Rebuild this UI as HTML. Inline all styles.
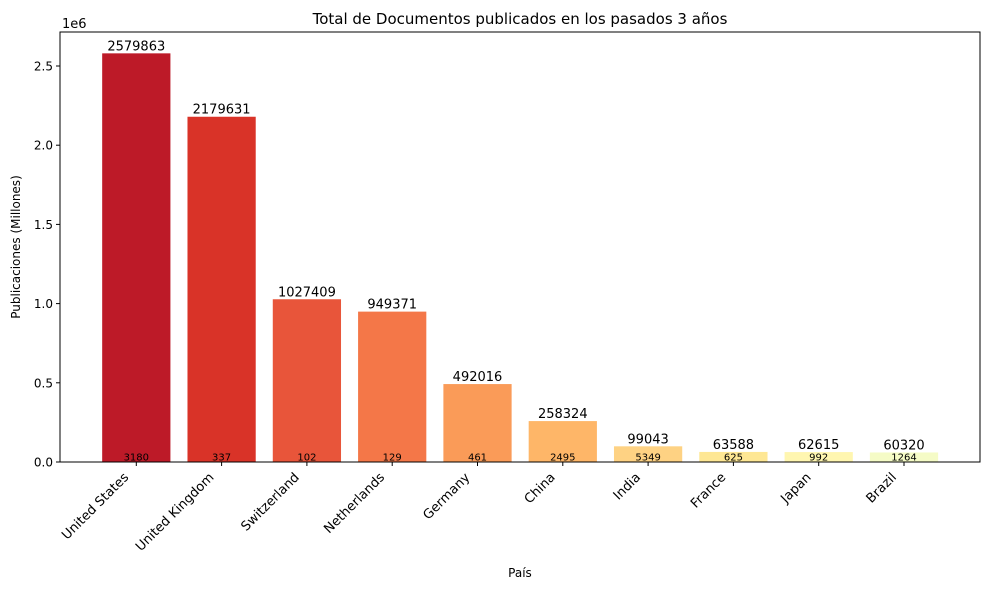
<!DOCTYPE html>
<html><head><meta charset="utf-8"><style>
body{margin:0;background:#fff;font-family:"Liberation Sans","DejaVu Sans",sans-serif;}
svg text{font-family:"DejaVu Sans","Liberation Sans",sans-serif;fill:#000;}
</style></head><body>
<svg id="chart" width="989" height="590" xmlns="http://www.w3.org/2000/svg">
<rect width="989" height="590" fill="#fff"/>
<text x="520" y="24" font-size="15" text-anchor="middle">Total de Documentos publicados en los pasados 3 años</text>
<text x="520" y="577" font-size="12" text-anchor="middle">País</text>
<text transform="translate(20,247) rotate(-90)" font-size="12" text-anchor="middle">Publicaciones (Millones)</text>
<text x="62" y="28" font-size="13">1e6</text>
<g id="plot"></g>
</svg>
<script>
const categories=["United States","United Kingdom","Switzerland","Netherlands","Germany","China","India","France","Japan","Brazil"];
const values=[2579863,2179631,1027409,949371,492016,258324,99043,63588,62615,60320];
const innerLabels=[3180,337,102,129,461,2495,5349,625,992,1264];
const colors=["#bd1a28","#d93328","#e8553a","#f47748","#fa9b58","#feb668","#fed283","#fee794","#fff6b0","#f5fbc6"];
const yTicks=[0,0.5,1.0,1.5,2.0,2.5];
const L=60,R=980,T=32,B=462;
const n=categories.length, step=85.3, x0=136.3;
function xs(i){return x0+i*step;}
function ys(v){return B-v/2.5e6*396;}
const ns="http://www.w3.org/2000/svg";
const g=document.getElementById('plot');
function mk(t,a,txt){const e=document.createElementNS(ns,t);for(const k in a)e.setAttribute(k,a[k]);if(txt!==undefined)e.textContent=txt;g.appendChild(e);return e;}
const bw=step*0.8;
values.forEach((v,i)=>{
 const r=mk('rect',{x:xs(i)-bw/2,y:ys(v),width:bw,height:B-ys(v),fill:colors[i]});
 
 
 const t=mk('text',{x:xs(i),y:ys(v)-3,'font-size':13,'text-anchor':'middle'},String(v));
 
 
 const t2=mk('text',{x:xs(i),y:B-1.5,'font-size':10,'text-anchor':'middle'},String(innerLabels[i]));
 
 
 const tk=mk('line',{x1:xs(i),x2:xs(i),y1:B,y2:B+4,stroke:'#000'});
 
 
 const xl=mk('text',{transform:`translate(${xs(i)-7},${B+16}) rotate(-45)`,'font-size':13,'text-anchor':'end'},categories[i]);
 
 
});
yTicks.forEach(t=>{
 const y=ys(t*1e6);
 const l=mk('line',{x1:L-4,x2:L,y1:y,y2:y,stroke:'#000'});
 
 
 const tx=mk('text',{x:L-7,y:y+4.5,'font-size':12,'text-anchor':'end'},t.toFixed(1));
 
 
});
const fr=mk('rect',{x:L,y:T,width:R-L,height:B-T,fill:'none',stroke:'#000','stroke-width':1});


</script>
</body></html>
